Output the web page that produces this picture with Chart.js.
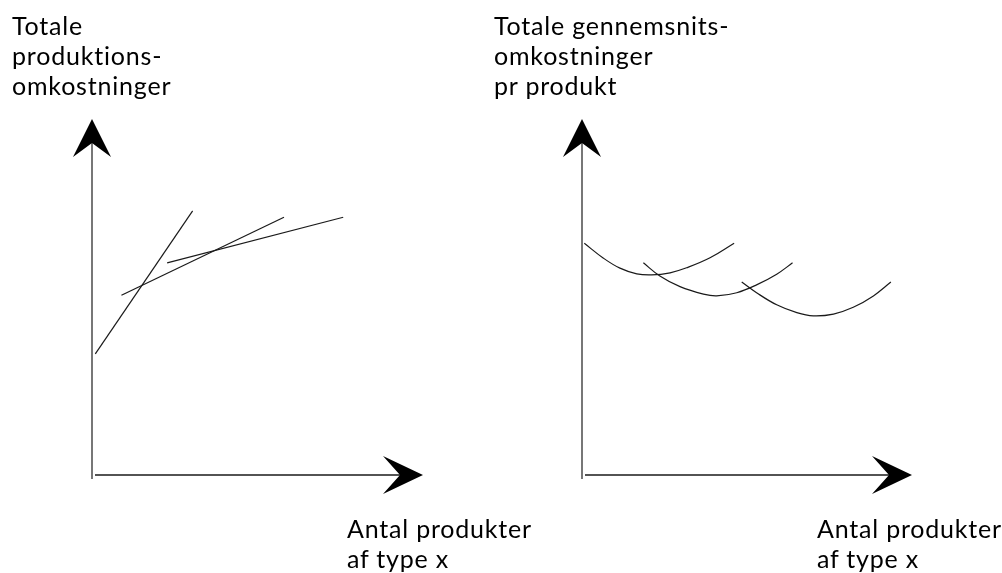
<!DOCTYPE html>
<html lang="da">
<head>
<meta charset="utf-8">
<script src="https://cdn.jsdelivr.net/npm/chart.js@4.4.1/dist/chart.umd.min.js"></script>
<style>
  html, body { margin: 0; padding: 0; background: #fff; }
  #wrap { position: relative; width: 1002px; height: 573px; overflow: hidden; }
  .panel { position: absolute; top: 0; width: 501px; height: 573px; }
  .lbl { position: absolute; font-family: Lato, sans-serif; font-size: 25px; line-height: 30px; letter-spacing: 0.8px; color: #000; white-space: nowrap; }
</style>
</head>
<body>
<div id="wrap">
  <div class="panel" style="left:0"><canvas id="chartTotal" width="501" height="573"></canvas></div>
  <div class="panel" style="left:501px"><canvas id="chartGnsnit" width="501" height="573"></canvas></div>
  <div class="lbl" id="titelVenstre" style="left:12px; top:10px"></div>
  <div class="lbl" id="titelHoejre" style="left:494px; top:10px"></div>
  <div class="lbl" id="aksVenstre" style="left:347px; top:513px"></div>
  <div class="lbl" id="aksHoejre" style="left:817px; top:513px"></div>
</div>
<script>
// Tekster
const titelTotal = ['Totale', 'produktions-', 'omkostninger'];
const titelGnsnit = ['Totale gennemsnits-', 'omkostninger', 'pr produkt'];
const aksetekst = ['Antal produkter', 'af type x'];

// Venstre: rette linjer (totale omkostninger), akser 0-100
const linjeA = [{ x: 1.0, y: 34.0 }, { x: 30.4, y: 74.2 }];
const linjeB = [{ x: 8.9, y: 50.5 }, { x: 58.0, y: 72.4 }];
const linjeC = [{ x: 22.7, y: 59.6 }, { x: 75.9, y: 72.4 }];

// Hoejre: U-kurver (gennemsnitsomkostninger)
const kurveA = [
    { x: 0.7, y: 65.1 }, { x: 6.5, y: 60.9 }, { x: 11.5, y: 58.1 }, { x: 16.6, y: 56.5 },
    { x: 21.1, y: 56.2 }, { x: 26.7, y: 56.8 }, { x: 31.7, y: 58.2 }, { x: 38.8, y: 61.0 },
    { x: 46.1, y: 65.1 }
];
const kurveB = [
    { x: 18.6, y: 59.6 }, { x: 23.6, y: 55.9 }, { x: 29.7, y: 52.9 }, { x: 36.8, y: 50.8 },
    { x: 40.8, y: 50.3 }, { x: 46.9, y: 51.2 }, { x: 52.9, y: 53.4 }, { x: 59.0, y: 56.4 },
    { x: 63.8, y: 59.6 }
];
const kurveC = [
    { x: 48.4, y: 54.2 }, { x: 52.9, y: 51.2 }, { x: 59.0, y: 47.8 }, { x: 65.1, y: 45.6 },
    { x: 70.1, y: 44.7 }, { x: 76.2, y: 45.2 }, { x: 82.2, y: 47.1 }, { x: 88.3, y: 50.3 },
    { x: 93.6, y: 54.2 }
];

document.getElementById('titelVenstre').innerHTML = titelTotal.join('<br>');
document.getElementById('titelHoejre').innerHTML = titelGnsnit.join('<br>');
document.getElementById('aksVenstre').innerHTML = aksetekst.join('<br>');
document.getElementById('aksHoejre').innerHTML = aksetekst.join('<br>');

// Akser med pilespidser tegnes ud fra skalaerne
const pileAkser = {
    id: 'pileAkser',
    afterDraw(chart) {
        const ctx = chart.ctx;
        const sx = chart.scales.x;
        const sy = chart.scales.y;
        const x0 = sx.getPixelForValue(sx.min);
        const y0 = sy.getPixelForValue(sy.min);
        const xEnd = sx.getPixelForValue(sx.max);
        const yEnd = sy.getPixelForValue(sy.max);

        ctx.save();
        // y-akse
        ctx.strokeStyle = '#555';
        ctx.lineWidth = 1.6;
        ctx.beginPath();
        ctx.moveTo(x0, y0 + 4);
        ctx.lineTo(x0, yEnd + 20);
        ctx.stroke();
        // x-akse
        ctx.strokeStyle = '#1a1a1a';
        ctx.lineWidth = 1.4;
        ctx.beginPath();
        ctx.moveTo(x0 + 3, y0);
        ctx.lineTo(xEnd - 20, y0);
        ctx.stroke();

        ctx.fillStyle = '#000';
        // pil op
        ctx.beginPath();
        ctx.moveTo(x0, yEnd);
        ctx.lineTo(x0 - 19, yEnd + 38);
        ctx.lineTo(x0, yEnd + 24);
        ctx.lineTo(x0 + 19, yEnd + 38);
        ctx.closePath();
        ctx.fill();
        // pil til hoejre
        ctx.beginPath();
        ctx.moveTo(xEnd, y0);
        ctx.lineTo(xEnd - 40, y0 - 19);
        ctx.lineTo(xEnd - 23, y0);
        ctx.lineTo(xEnd - 40, y0 + 19);
        ctx.closePath();
        ctx.fill();
        ctx.restore();
    }
};

function linjeSaet(data, tension) {
    return {
        data: data,
        showLine: true,
        borderColor: '#1a1a1a',
        borderWidth: 1.2,
        pointRadius: 0,
        tension: tension,
        clip: false
    };
}

function lavChart(canvasId, datasets, padding) {
    return new Chart(document.getElementById(canvasId), {
        type: 'scatter',
        data: { datasets: datasets },
        options: {
            responsive: false,
            animation: false,
            events: [],
            layout: { padding: padding },
            plugins: { legend: { display: false }, tooltip: { enabled: false } },
            scales: {
                x: { type: 'linear', min: 0, max: 100, display: false },
                y: { type: 'linear', min: 0, max: 100, display: false }
            }
        },
        plugins: [pileAkser]
    });
}

lavChart('chartTotal',
    [linjeSaet(linjeA, 0), linjeSaet(linjeB, 0), linjeSaet(linjeC, 0)],
    { left: 92, right: 78, top: 119, bottom: 98 });

lavChart('chartGnsnit',
    [linjeSaet(kurveA, 0.4), linjeSaet(kurveB, 0.4), linjeSaet(kurveC, 0.4)],
    { left: 81, right: 90, top: 119, bottom: 98 });
</script>
</body>
</html>
